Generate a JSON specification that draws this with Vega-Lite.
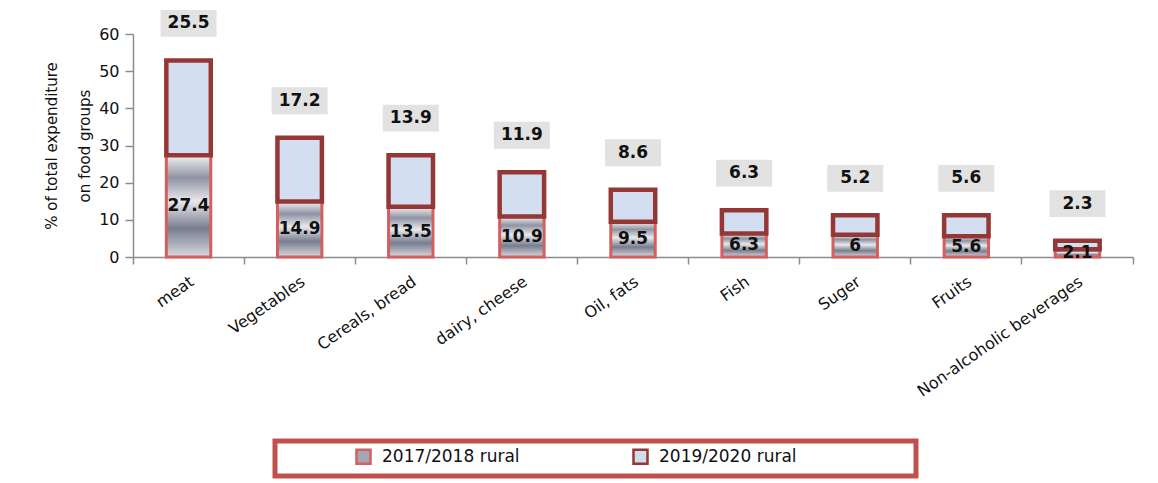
{
  "$schema": "https://vega.github.io/schema/vega-lite/v6.json",
  "width": 1000,
  "height": 223,
  "autosize": {"type": "none"},
  "padding": {"left": 133, "top": 34, "right": 25, "bottom": 226},
  "background": "white",
  "config": {
    "view": {"stroke": null},
    "font": "DejaVu Sans",
    "axis": {
      "domainColor": "#8c8c8c",
      "tickColor": "#8c8c8c",
      "domainWidth": 1.5,
      "tickWidth": 1.5,
      "grid": false,
      "labelColor": "#111111",
      "titleColor": "#111111",
      "labelFont": "DejaVu Sans",
      "titleFont": "DejaVu Sans",
      "titleFontWeight": "normal"
    },
    "axisY": {
      "values": [0, 10, 20, 30, 40, 50, 60],
      "tickSize": 8,
      "labelPadding": 6,
      "labelFontSize": 16,
      "titleFontSize": 15,
      "titleLineHeight": 33,
      "titlePadding": 6
    },
    "legend": {
      "orient": "none",
      "legendX": 142,
      "legendY": 407,
      "direction": "horizontal",
      "padding": 7,
      "strokeColor": "#c0504d",
      "strokeWidth": 5,
      "symbolType": "square",
      "symbolSize": 196,
      "symbolStrokeWidth": 2.5,
      "labelFontSize": 17,
      "labelFont": "DejaVu Sans",
      "labelColor": "#111111",
      "labelLimit": 600,
      "symbolOffset": 73,
      "labelOffset": 10,
      "columnPadding": 39
    }
  },
  "data": {
    "values": [
      {"category": "meat", "series": "2017/2018 rural", "value": 27.4},
      {"category": "meat", "series": "2019/2020 rural", "value": 25.5},
      {"category": "Vegetables", "series": "2017/2018 rural", "value": 14.9},
      {"category": "Vegetables", "series": "2019/2020 rural", "value": 17.2},
      {"category": "Cereals, bread", "series": "2017/2018 rural", "value": 13.5},
      {"category": "Cereals, bread", "series": "2019/2020 rural", "value": 13.9},
      {"category": "dairy, cheese", "series": "2017/2018 rural", "value": 10.9},
      {"category": "dairy, cheese", "series": "2019/2020 rural", "value": 11.9},
      {"category": "Oil, fats", "series": "2017/2018 rural", "value": 9.5},
      {"category": "Oil, fats", "series": "2019/2020 rural", "value": 8.6},
      {"category": "Fish", "series": "2017/2018 rural", "value": 6.3},
      {"category": "Fish", "series": "2019/2020 rural", "value": 6.3},
      {"category": "Suger", "series": "2017/2018 rural", "value": 6},
      {"category": "Suger", "series": "2019/2020 rural", "value": 5.2},
      {"category": "Fruits", "series": "2017/2018 rural", "value": 5.6},
      {"category": "Fruits", "series": "2019/2020 rural", "value": 5.6},
      {"category": "Non-alcoholic beverages", "series": "2017/2018 rural", "value": 2.1},
      {"category": "Non-alcoholic beverages", "series": "2019/2020 rural", "value": 2.3}
    ]
  },
  "encoding": {
    "x": {
      "field": "category",
      "type": "nominal",
      "sort": null,
      "scale": {"paddingInner": 0, "paddingOuter": 0},
      "axis": {
        "title": null,
        "labelAngle": -35,
        "bandPosition": 1,
        "tickExtra": true,
        "labelOffset": -1,
        "tickSize": 7,
        "labelPadding": 9,
        "labelFontSize": 16,
        "labelLimit": 400
      }
    }
  },
  "layer": [
    {
      "mark": {"type": "bar", "width": {"band": 0.4}},
      "encoding": {
        "y": {
          "field": "value",
          "type": "quantitative",
          "stack": "zero",
          "scale": {"domain": [0, 60], "nice": false},
          "title": ["% of total expenditure", "on food groups"]
        },
        "fill": {
          "field": "series",
          "type": "nominal",
          "scale": {"domain": ["2017/2018 rural", "2019/2020 rural"], "range": ["#a3a6b3", "#d0ddef"]},
          "legend": {"title": null, "labelExpr": "datum.label == '2019/2020 rural' ? datum.label + '\u2800\u2800\u2800\u2800\u2800\u2800\u2800\u2800\u2800' : datum.label"}
        },
        "stroke": {
          "field": "series",
          "type": "nominal",
          "scale": {"domain": ["2017/2018 rural", "2019/2020 rural"], "range": ["#d35f5f", "#953735"]},
          "legend": {"title": null, "labelExpr": "datum.label == '2019/2020 rural' ? datum.label + '\u2800\u2800\u2800\u2800\u2800\u2800\u2800\u2800\u2800' : datum.label"}
        },
        "order": {"field": "series"}
      }
    },
    {
      "transform": [{"filter": "datum.series === '2017/2018 rural'"}],
      "mark": {
        "type": "bar",
        "width": {"band": 0.4},
        "stroke": "#d35f5f",
        "strokeWidth": 3,
        "fill": {
          "gradient": "linear",
          "x1": 0, "y1": 0, "x2": 0, "y2": 1,
          "stops": [
            {"offset": 0, "color": "#f2f2f4"},
            {"offset": 0.22, "color": "#8f93a3"},
            {"offset": 0.45, "color": "#e8e8ec"},
            {"offset": 0.72, "color": "#787d8f"},
            {"offset": 1, "color": "#d9dadf"}
          ]
        }
      },
      "encoding": {
        "y": {"field": "value", "type": "quantitative", "title": ["% of total expenditure", "on food groups"]}
      }
    },
    {
      "transform": [
        {"stack": "value", "groupby": ["category"], "sort": [{"field": "series", "order": "ascending"}], "as": ["y0", "y1"]},
        {"filter": "datum.series === '2019/2020 rural'"}
      ],
      "mark": {"type": "bar", "width": {"band": 0.4}, "fill": "#d3dff0", "stroke": "#953735", "strokeWidth": 4.5},
      "encoding": {
        "y": {"field": "y0", "type": "quantitative", "title": ["% of total expenditure", "on food groups"]},
        "y2": {"field": "y1"}
      }
    },
    {
      "transform": [{"filter": "datum.series === '2017/2018 rural'"}],
      "mark": {"type": "text", "font": "DejaVu Sans", "fontWeight": "bold", "fontSize": 17, "color": "#111111", "baseline": "middle", "align": "center"},
      "encoding": {
        "y": {"field": "value", "type": "quantitative", "stack": "zero", "bandPosition": 0.5, "title": ["% of total expenditure", "on food groups"]},
        "detail": {"field": "series"},
        "text": {"field": "value", "type": "nominal"}
      }
    },
    {
      "transform": [
        {"stack": "value", "groupby": ["category"], "sort": [{"field": "series", "order": "ascending"}], "as": ["y0", "y1"]},
        {"filter": "datum.series === '2019/2020 rural'"}
      ],
      "mark": {"type": "point", "shape": "M -1 -0.48 L 1 -0.48 L 1 0.48 L -1 0.48 Z", "size": 3136, "filled": true, "fill": "#e2e2e2", "opacity": 1, "strokeWidth": 0, "yOffset": -37},
      "encoding": {
        "y": {"field": "y1", "type": "quantitative", "title": ["% of total expenditure", "on food groups"]}
      }
    },
    {
      "transform": [
        {"stack": "value", "groupby": ["category"], "sort": [{"field": "series", "order": "ascending"}], "as": ["y0", "y1"]},
        {"filter": "datum.series === '2019/2020 rural'"}
      ],
      "mark": {"type": "text", "font": "DejaVu Sans", "fontWeight": "bold", "fontSize": 17, "color": "#111111", "baseline": "middle", "align": "center", "dy": -37},
      "encoding": {
        "y": {"field": "y1", "type": "quantitative", "title": ["% of total expenditure", "on food groups"]},
        "text": {"field": "value", "type": "nominal"}
      }
    }
  ]
}
